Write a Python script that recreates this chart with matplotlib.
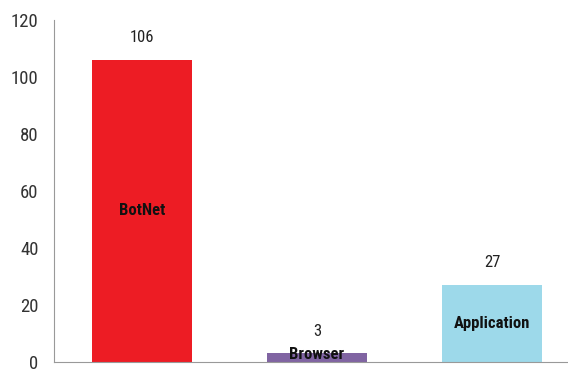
import matplotlib.pyplot as plt
from matplotlib import font_manager

categories = ['BotNet', 'Browser', 'Application']
values = [106, 3, 27]
colors = ['#ED1C24', '#8064A2', '#9DD9EA']
yticks = [0, 20, 40, 60, 80, 100, 120]

names = {f.name for f in font_manager.fontManager.ttflist}
fam = 'Liberation Sans'
for cand in ['Liberation Sans Narrow', 'DejaVu Sans Condensed', 'Roboto Condensed']:
    if cand in names:
        fam = cand
        break
plt.rcParams['font.family'] = [fam, 'DejaVu Sans']

fig = plt.figure(figsize=(5.68, 3.69), dpi=100)
ax = fig.add_axes([54 / 568, 7 / 369, 1 - 54 / 568, 342 / 369])

x = list(range(len(categories)))
ax.bar(x, values, width=0.571, color=colors)

for i, v in enumerate(values):
    ax.annotate(str(v), (i, v), xytext=(0, 16), textcoords='offset points',
                ha='center', va='center', fontsize=12, color='#222222')
    ax.text(i, v / 2 + (1 if v < 5 else 0), categories[i], ha='center', va='center',
            fontsize=12, color='#111111', fontweight='bold')

ax.set_xlim(-0.503, 2.434)
ax.set_ylim(0, 120)
ax.set_yticks(yticks)
ax.set_xticks([])
ax.tick_params(axis='y', length=0, labelsize=13.5, labelcolor='#333333', pad=11)
for s in ['top', 'right']:
    ax.spines[s].set_visible(False)
for s in ['left', 'bottom']:
    ax.spines[s].set_color('#999999')

fig.savefig('out.png', dpi=100)
